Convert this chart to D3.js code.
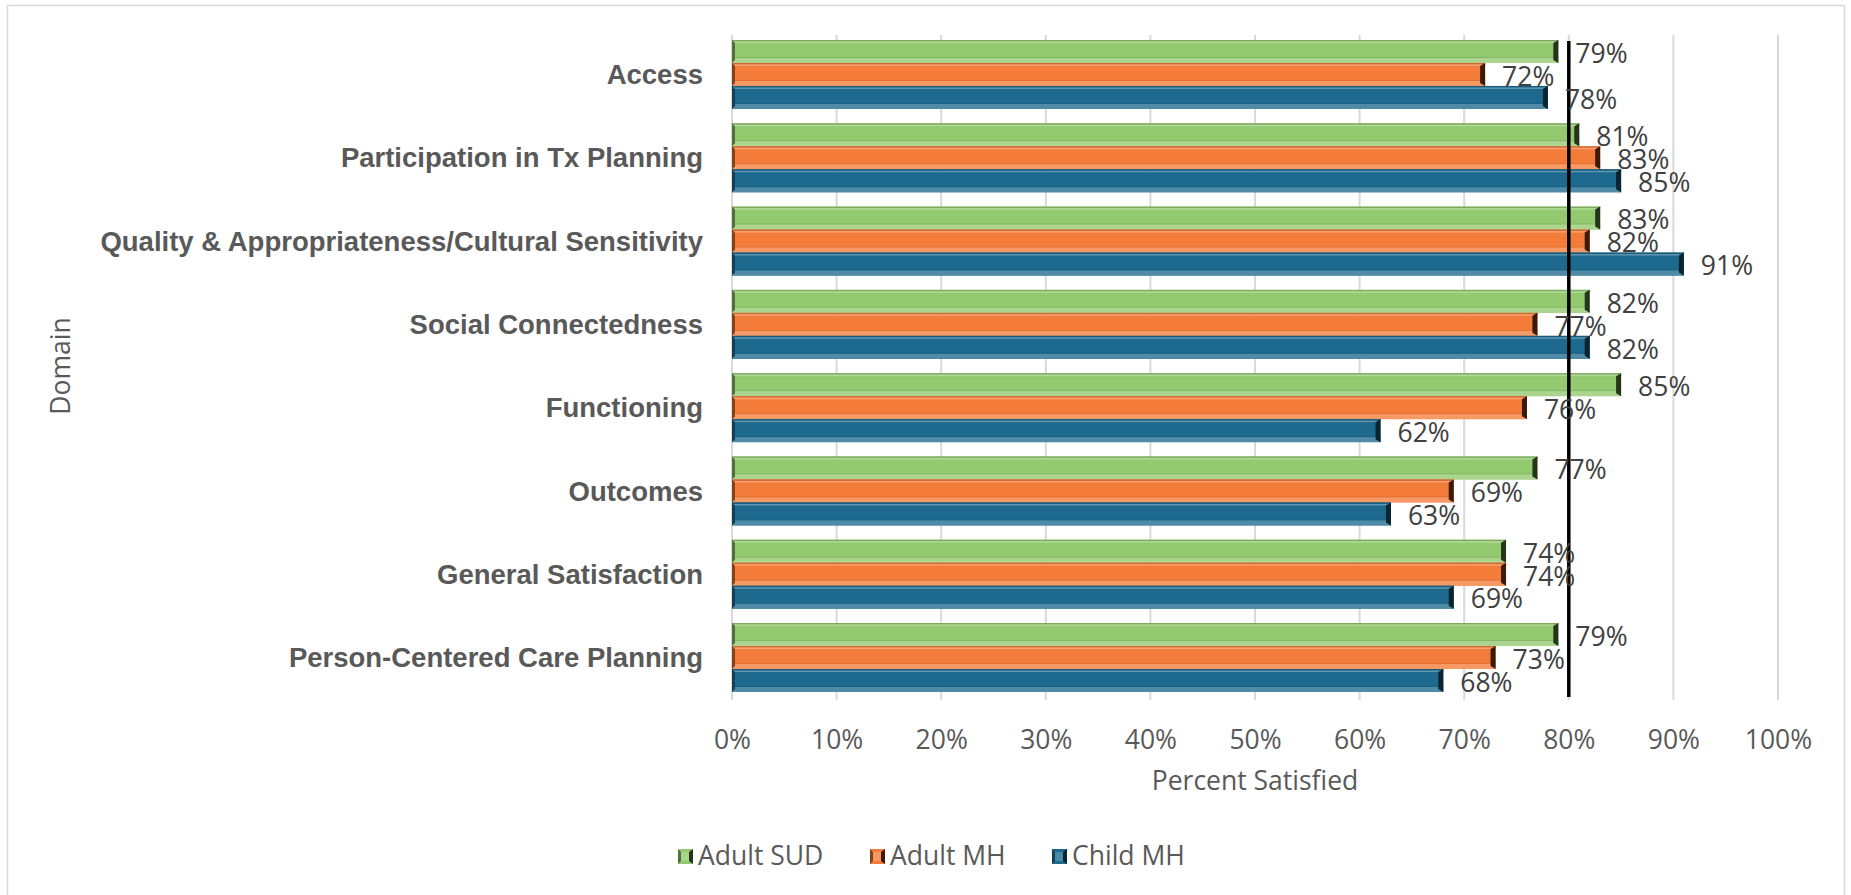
<!DOCTYPE html>
<html><head><meta charset="utf-8">
<script src="https://cdn.jsdelivr.net/npm/d3@7/dist/d3.min.js"></script>
<style>
html,body{margin:0;padding:0;background:#fff;}
svg{display:block;}
</style></head>
<body>
<svg id="chart" width="1851" height="895"></svg>
<script>
const categories = ["Access","Participation in Tx Planning","Quality & Appropriateness/Cultural Sensitivity","Social Connectedness","Functioning ","Outcomes","General Satisfaction","Person-Centered Care Planning"];
const seriesNames = ["Adult SUD","Adult MH","Child MH"];
const adultSUD = [0.79,0.81,0.83,0.82,0.85,0.77,0.74,0.79];
const adultMH  = [0.72,0.83,0.82,0.77,0.76,0.69,0.74,0.73];
const childMH  = [0.78,0.85,0.91,0.82,0.62,0.63,0.69,0.68];
const xTicks = [0,0.1,0.2,0.3,0.4,0.5,0.6,0.7,0.8,0.9,1.0];
const benchmark = 0.8;
const colors = ["#93C96F","#F47C3A","#1D6A8E"];
const caps = ["#26341b","#3b1a08","#0b2430"];
const seriesValues = [adultSUD, adultMH, childMH];

const svg = d3.select("#chart");
const pLeft = 732, pRight = 1778, pTop = 35, pBottom = 697;
const font = "'Open Sans', 'Liberation Sans', sans-serif";
const fs = 26.5;
const textCol = "#595959";

// frame
svg.append("rect").attr("x",7.5).attr("y",5.5).attr("width",1837).attr("height",895)
  .attr("fill","#fff").attr("stroke","#d9d9d9").attr("stroke-width",1.5);

const x = d3.scaleLinear().domain([0,1]).range([pLeft,pRight]);
const y = d3.scaleBand().domain(categories).range([pTop,pBottom]).paddingInner(0.172).paddingOuter(0.06);
const ys = d3.scaleBand().domain(seriesNames).range([0,y.bandwidth()]);

// gridlines
svg.append("g").selectAll("line").data(xTicks).join("line")
  .attr("x1",d=>x(d)).attr("x2",d=>x(d)).attr("y1",pTop).attr("y2",700)
  .attr("stroke","#d9d9d9").attr("stroke-width",2);

// axis tick labels
const xAxis = d3.axisBottom(x).tickValues(xTicks).tickFormat(d3.format(".0%")).tickSize(0).tickPadding(0);
const gx = svg.append("g").attr("transform",`translate(0,${740})`).call(xAxis);
gx.select(".domain").remove();
gx.selectAll("text").attr("font-family",font).attr("font-size",fs).attr("fill",textCol)
  .attr("dy","0.35em").attr("y",0);

// category labels
const yAxis = d3.axisLeft(y).tickSize(0).tickPadding(0);
const gy = svg.append("g").attr("transform",`translate(${703},0)`).call(yAxis);
gy.select(".domain").remove();
gy.selectAll("text").attr("font-family","'Liberation Sans', Arial, sans-serif").attr("font-weight","bold")
  .attr("font-size",27.5).attr("fill",textCol).attr("dy","0.35em");

function mix(c, w, t){ return d3.interpolateRgb(c, w)(t); }

// bars
const rows = [];
categories.forEach((c,i)=>{
  seriesNames.forEach((s,j)=>{
    rows.push({cat:c, ser:s, j:j, v:seriesValues[j][i]});
  });
});
const bh = ys.bandwidth();
const gb = svg.append("g");
rows.forEach(r=>{
  const y0 = y(r.cat) + ys(r.ser);
  const x0 = x(0), x1 = x(r.v);
  const g = gb.append("g");
  const base = colors[r.j];
  g.append("rect").attr("x",x0).attr("y",y0).attr("width",x1-x0).attr("height",bh).attr("fill",base);
  g.append("rect").attr("x",x0).attr("y",y0).attr("width",x1-x0).attr("height",1.5).attr("fill",mix(base,"#000",0.15));
  g.append("rect").attr("x",x0).attr("y",y0+1.5).attr("width",x1-x0).attr("height",1.5).attr("fill",mix(base,"#fff",0.3));
  g.append("rect").attr("x",x0).attr("y",y0+bh-6).attr("width",x1-x0).attr("height",1).attr("fill",mix(base,"#000",0.1));
  g.append("rect").attr("x",x0).attr("y",y0+bh-5).attr("width",x1-x0).attr("height",5).attr("fill",mix(base,"#fff",0.22));
  g.append("polygon").attr("points",`${x0},${y0} ${x0+3},${y0+3} ${x0+3},${y0+bh-3} ${x0},${y0+bh}`).attr("fill",mix(caps[r.j],base,0.4));
  g.append("polygon").attr("points",`${x1},${y0} ${x1},${y0+bh} ${x1-5},${y0+bh-3} ${x1-5},${y0+3}`).attr("fill",caps[r.j]);
});

// benchmark line
svg.append("line").attr("x1",x(benchmark)).attr("x2",x(benchmark)).attr("y1",41).attr("y2",pBottom)
  .attr("stroke","#000").attr("stroke-width",3.5);

// data labels
svg.append("g").selectAll("text").data(rows).join("text")
  .attr("x",d=>x(d.v)+17).attr("y",d=>y(d.cat)+ys(d.ser)+bh/2+2)
  .attr("dy","0.35em").attr("font-family",font).attr("font-size",fs).attr("fill","#404040")
  .text(d=>d3.format(".0%")(d.v));

// axis titles
svg.append("text").attr("x",(pLeft+pRight)/2).attr("y",781).attr("dy","0.35em").attr("text-anchor","middle")
  .attr("font-family",font).attr("font-size",fs).attr("fill",textCol).text("Percent Satisfied");
svg.append("text").attr("transform",`translate(61,${(pTop+pBottom)/2}) rotate(-90)`).attr("dy","0.35em").attr("text-anchor","middle")
  .attr("font-family",font).attr("font-size",fs).attr("fill",textCol).text("Domain");

// legend
const legX = [678, 870, 1052];
const lg = svg.append("g");
seriesNames.forEach((s,j)=>{
  const lx = legX[j], ly = 856;
  const g = lg.append("g");
  g.append("rect").attr("x",lx).attr("y",ly-7).attr("width",15).attr("height",15).attr("fill",colors[j]);
  g.append("rect").attr("x",lx+3).attr("y",ly-4).attr("width",8).attr("height",9).attr("fill",mix(colors[j],"#fff",0.2));
  g.append("polygon").attr("points",`${lx},${ly-7} ${lx+3},${ly-4} ${lx+3},${ly+5} ${lx},${ly+8}`).attr("fill",mix(caps[j],colors[j],0.4));
  g.append("polygon").attr("points",`${lx+15},${ly-7} ${lx+15},${ly+8} ${lx+11},${ly+5} ${lx+11},${ly-4}`).attr("fill",caps[j]);
  g.append("text").attr("x",lx+20).attr("y",ly).attr("dy","0.35em").attr("font-family",font).attr("font-size",fs)
    .attr("fill",textCol).text(s);
});
</script>
</body></html>
